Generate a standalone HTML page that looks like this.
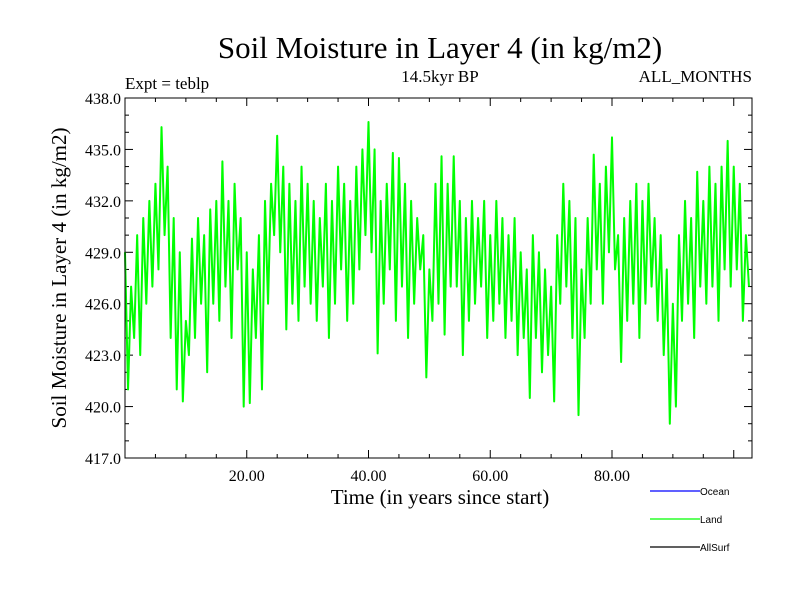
<!DOCTYPE html>
<html><head><meta charset="utf-8"><style>
body{margin:0;background:#fff}
svg{display:block}
.serif{font-family:"Liberation Serif",serif;fill:#000}
.sans{font-family:"Liberation Sans",sans-serif;fill:#000}
</style></head><body>
<svg id="chart" width="800" height="600" viewBox="0 0 800 600">
<rect width="800" height="600" fill="#fff"/>
<text x="440" y="58" text-anchor="middle" class="serif" font-size="31">Soil Moisture in Layer 4 (in kg/m2)</text>
<text x="125" y="89" class="serif" font-size="17">Expt = teblp</text>
<text x="440" y="82" text-anchor="middle" class="serif" font-size="17">14.5kyr BP</text>
<text x="752" y="82" text-anchor="end" class="serif" font-size="17">ALL_MONTHS</text>
<text transform="translate(66,278) rotate(-90)" text-anchor="middle" class="serif" font-size="21">Soil Moisture in Layer 4 (in kg/m2)</text>
<text x="440" y="504" text-anchor="middle" class="serif" font-size="21">Time (in years since start)</text>
<g id="ticks"></g>
<g id="series"></g>
<rect x="125" y="98" width="627" height="360" fill="none" stroke="#000" stroke-width="1"/>
<g>
<line x1="650" y1="491" x2="700" y2="491" stroke="#0000ff" stroke-width="1.2"/>
<text x="700" y="495" class="sans" font-size="10">Ocean</text>
<line x1="650" y1="519" x2="700" y2="519" stroke="#00ff00" stroke-width="1.2"/>
<text x="700" y="523" class="sans" font-size="10">Land</text>
<line x1="650" y1="547" x2="700" y2="547" stroke="#000" stroke-width="1.2"/>
<text x="700" y="551" class="sans" font-size="10">AllSurf</text>
</g>
</svg>
<script>
const yTickValues=[417,420,423,426,429,432,435,438];
const yTickLabels=["417.0","420.0","423.0","426.0","429.0","432.0","435.0","438.0"];
const xTickValues=[20,40,60,80];
const xTickLabels=["20.00","40.00","60.00","80.00"];
const timeStart=0, timeStep=0.5;
const landValues=[
429,421,427,424,430,423,431,426,432,427,
433,428,436.3,430,434,424,431,421,429,420.3,
425,423,429.8,424,431,426,430,422,431.5,426,
432,425,434.3,427,432,424,433,428,431,420,
429,420.2,428,424,430,421,432,426,433,430,
435.8,429,434,424.5,433,426,432,425,434,427,
433,426,432,425,431,427,433,424,432,426,
434,428,433,425,432,426,434,428,435,430,
436.6,429,435,423.1,432,426,433,428,434.8,425,
434.5,427,433,424,432,426,431,428,430,421.7,
428,425,433,426,434.6,424.2,433,427,434.6,427,
432,423,431,425,432,426,431,427,432,424,
430,425,432,426,431,424,430,425,431,423,
429,424,428,420.5,430,424,429,422,428,423,
427,420.3,430,426,433,427,432,424,431,419.5,
428,424,431,426,434.7,428,433,426,434,429,
435.7,428,430,422.6,431,425,432,426,433,424,
432,426,433,427,431,425,430,423,428,419,
426,420,430,425,432,426,431,424,433.7,427,
432,426,434,427,433,425,434,428,435.5,427,
434,428,433,425,430,427];
const NS="http://www.w3.org/2000/svg";
const X0=125,X1=752,Y0=98,Y1=458,XMIN=0,XMAX=103,YMIN=417,YMAX=438;
function xs(v){return X0+(v-XMIN)/(XMAX-XMIN)*(X1-X0);}
function ys(v){return Y1-(v-YMIN)/(YMAX-YMIN)*(Y1-Y0);}
const tg=document.getElementById('ticks');
function ln(x1,y1,x2,y2,name){const l=document.createElementNS(NS,'line');l.setAttribute('x1',x1);l.setAttribute('y1',y1);l.setAttribute('x2',x2);l.setAttribute('y2',y2);l.setAttribute('stroke','#000');l.setAttribute('stroke-width','1');


tg.appendChild(l);}
function tx(x,y,s,anchor,name){const t=document.createElementNS(NS,'text');t.setAttribute('x',x);t.setAttribute('y',y);t.setAttribute('text-anchor',anchor);t.setAttribute('class','serif');t.setAttribute('font-size','16');t.textContent=s;


tg.appendChild(t);}
for(let v=YMIN;v<=YMAX;v++){const y=ys(v);const major=(v-YMIN)%3===0;const L=major?8:4;ln(X0,y,X0+L,y,'y-tick');ln(X1,y,X1-L,y,'y-tick-right');}
yTickValues.forEach((v,i)=>tx(X0-4,ys(v)+6,yTickLabels[i],'end','y-tick-label'));
for(let v=5;v<XMAX;v+=5){const x=xs(v);const major=v%20===0;const L=major?8:4;ln(x,Y1,x,Y1-L,'x-tick');ln(x,Y0,x,Y0+L,'x-tick-top');}
xTickValues.forEach((v,i)=>tx(xs(v),Y1+23,xTickLabels[i],'middle','x-tick-label'));
const sg=document.getElementById('series');
const p=document.createElementNS(NS,'path');
let d='';landValues.forEach((v,i)=>{d+=(i?'L':'M')+xs(timeStart+i*timeStep).toFixed(2)+','+ys(v).toFixed(2);});
p.setAttribute('d',d);p.setAttribute('fill','none');p.setAttribute('stroke','#00ff00');p.setAttribute('stroke-width','2');p.setAttribute('stroke-linejoin','round');


sg.appendChild(p);
</script>
</body></html>
